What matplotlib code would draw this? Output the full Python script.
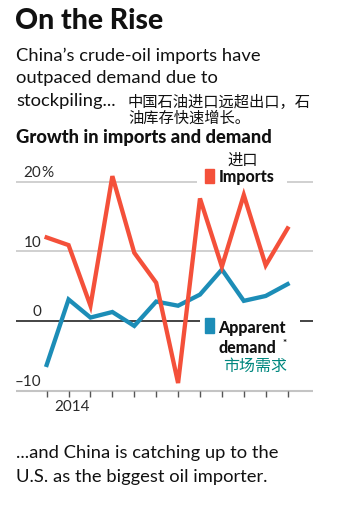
import matplotlib.pyplot as plt
from matplotlib.patches import Rectangle
from matplotlib.transforms import ScaledTranslation

# growth rates, %, year on year
imports = [12.0, 10.9, 2.2, 20.8, 9.8, 5.5, -8.9, 17.6, 7.8, 18.1, 8.0, 13.3]
demand = [-6.3, 3.1, 0.5, 1.3, -0.7, 2.8, 2.2, 3.8, 7.4, 2.9, 3.6, 5.3]
x_labels = ["", "2014", "", "", "", "", "", "", "", "", "", ""]
y_ticks = [-10, 0, 10, 20]
y_labels = ["\u201310", "0", "10", "20"]

RED = '#f4503a'
BLUE = '#1c8db7'
TEAL = '#00877f'
GRID = '#c4c4c4'
LATIN = ['Lato', 'DejaVu Sans']
CJK = ['Noto Sans CJK SC', 'DejaVu Sans']

W, H = 364, 521
fig = plt.figure(figsize=(W / 100, H / 100), dpi=100)


# positions below are in pixels measured from the top-left corner
def fx(x):
    return x / W


def fy(y):
    return 1 - y / H


def text(x, y, s, size, weight='normal', family=LATIN, color='#111111', **kw):
    fig.text(fx(x), fy(y), s, fontsize=size, fontweight=weight,
             family=family, color=color, va='baseline', **kw)


# headline block
text(15, 29, "On the Rise", 20.4, 'black')
text(16, 60.5, "China\u2019s crude-oil imports have", 13.2)
text(16, 83, "outpaced demand due to", 13.2)
text(16, 106, "stockpiling...", 13.2)
text(128, 122.5, "中国石油进口远超出口，石\n油库存快速增长。", 11, family=CJK,
     linespacing=0.86, ha='left', multialignment='left')
text(16, 143, "Growth in imports and demand", 13.2, 'black')

# chart
left, right, top, bottom = 16, 313, 167.8, 390.7
ax = fig.add_axes([fx(left), fy(bottom), (right - left) / W, (bottom - top) / H])
xmin, xmax = -1.4, 12.16
ax.set_xlim(xmin, xmax)
ax.set_ylim(-10, 22)


def dx(px):
    return xmin + (px - left) / (right - left) * (xmax - xmin)


for s in ax.spines.values():
    s.set_visible(False)

# gridlines, broken where the legend sits
ax.hlines(10, xmin, xmax, color=GRID, lw=1.1, zorder=1)
ax.hlines([20, 20], [xmin, dx(287)], [dx(197), xmax], color=GRID, lw=1.1, zorder=1)
ax.hlines([0, 0], [xmin, dx(300)], [dx(200), xmax], color='#111111', lw=1.1, zorder=1)
ax.hlines(-10, xmin, xmax, color=GRID, lw=1.5, zorder=1, clip_on=False)

xs = list(range(len(imports)))
ax.plot(xs, demand, color=BLUE, lw=3.1, solid_joinstyle='miter', zorder=3, clip_on=False)
ax.plot(xs, imports, color=RED, lw=3.1, solid_joinstyle='miter', zorder=4, clip_on=False)

# y labels sit just above their gridline, numbers right-aligned
for v, lab in zip(y_ticks, y_labels):
    ax.annotate(lab, xy=(dx(41.5), v), xytext=(0, 3.5), textcoords='offset points',
                ha='right', va='baseline', fontsize=11, family=LATIN, color='#2a2a2a')
ax.annotate("%", xy=(dx(41.5), 20), xytext=(0, 3.5), textcoords='offset points',
            ha='left', va='baseline', fontsize=11, family=LATIN, color='#2a2a2a')

ax.set_yticks([])
ax.set_xticks(xs)
ax.set_xticklabels(x_labels, fontsize=11, family=LATIN, color='#2a2a2a')
ax.tick_params(axis='x', length=4, width=1, color='#555555', pad=3)
shift = ScaledTranslation(3 / 100, 0, fig.dpi_scale_trans)
for lbl in ax.get_xticklabels():
    lbl.set_transform(lbl.get_transform() + shift)

# legend
fig.patches.append(Rectangle((fx(205), fy(183)), 9 / W, 14 / H, color=RED,
                             transform=fig.transFigure))
fig.patches.append(Rectangle((fx(205), fy(333)), 9 / W, 15 / H, color=BLUE,
                             transform=fig.transFigure))
text(227, 165, "进口", 11, family=CJK)
text(218.5, 182, "Imports", 11.5, 'black')
text(218.5, 333, "Apparent", 11.5, 'black')
text(218.5, 353, "demand", 11.5, 'black')
text(282.5, 346, "*", 7, 'bold')
text(223, 371, "市场需求", 11.5, family=CJK, color=TEAL)

# footer
text(16, 458, "...and China is catching up to the", 13.2)
text(16, 482, "U.S. as the biggest oil importer.", 13.2)

fig.savefig('out.png', dpi=100, facecolor='white')
